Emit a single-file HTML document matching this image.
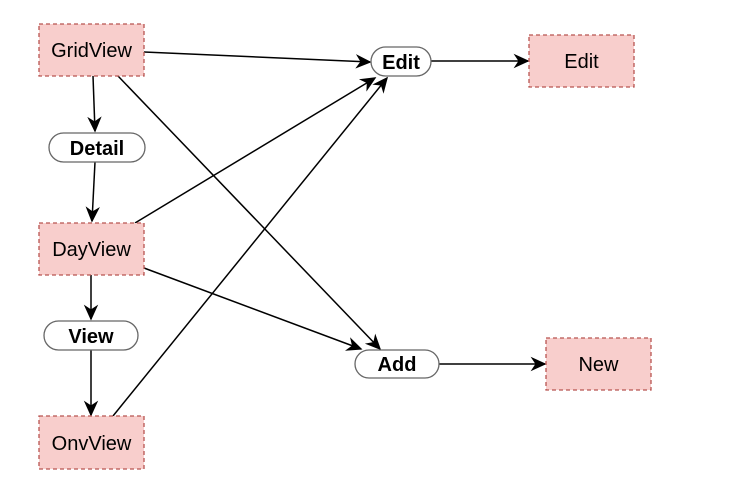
<!DOCTYPE html>
<html><head><meta charset="utf-8"><style>
html,body{margin:0;padding:0;background:#fff;}
svg{display:block;}
text{font-family:"Liberation Sans",Arial,sans-serif;}
</style></head><body>
<svg width="738" height="503" viewBox="0 0 738 503" xmlns="http://www.w3.org/2000/svg">
<defs>
<marker id="a" viewBox="0 0 10 10" refX="9" refY="5" markerWidth="16" markerHeight="16" markerUnits="userSpaceOnUse" orient="auto">
<path d="M0,0.5 L10,5 L0,9.5 L3,5 z" fill="#000"/>
</marker>
</defs>
<g stroke="#000" stroke-width="1.5" fill="none" marker-end="url(#a)">
<line x1="144" y1="52" x2="370" y2="62"/>
<line x1="93" y1="76" x2="95" y2="131"/>
<line x1="118" y1="76" x2="380" y2="349"/>
<line x1="95" y1="162" x2="92" y2="221"/>
<line x1="135" y1="223" x2="375" y2="78"/>
<line x1="144" y1="268" x2="361" y2="349"/>
<line x1="91" y1="275" x2="91" y2="319"/>
<line x1="91" y1="350" x2="91" y2="415"/>
<line x1="113" y1="416" x2="387" y2="78"/>
<line x1="431" y1="61" x2="528" y2="61"/>
<line x1="439" y1="364" x2="545" y2="364"/>
</g>
<g fill="#f8cecc" stroke="#b85450" stroke-width="1.3" stroke-dasharray="4,3">
<rect x="39" y="24" width="105" height="52"/>
<rect x="39" y="223" width="105" height="52"/>
<rect x="39" y="416" width="105" height="53"/>
<rect x="529" y="35" width="105" height="52"/>
<rect x="546" y="338" width="105" height="52"/>
</g>
<g fill="#fff" stroke="#666" stroke-width="1.3">
<rect x="49" y="133" width="96" height="29" rx="14.5"/>
<rect x="44" y="321" width="94" height="29" rx="14.5"/>
<rect x="371" y="47" width="60" height="29" rx="14.5"/>
<rect x="355" y="350" width="84" height="28" rx="14"/>
</g>
<g font-size="20" text-anchor="middle" fill="#000">
<text x="91.5" y="57">GridView</text>
<text x="91.5" y="256">DayView</text>
<text x="91.5" y="450">OnvView</text>
<text x="581.5" y="68">Edit</text>
<text x="598.5" y="371">New</text>
</g>
<g font-size="20" font-weight="bold" text-anchor="middle" fill="#000">
<text x="97" y="155">Detail</text>
<text x="91" y="343">View</text>
<text x="401" y="69">Edit</text>
<text x="397" y="371">Add</text>
</g>
</svg>
</body></html>
